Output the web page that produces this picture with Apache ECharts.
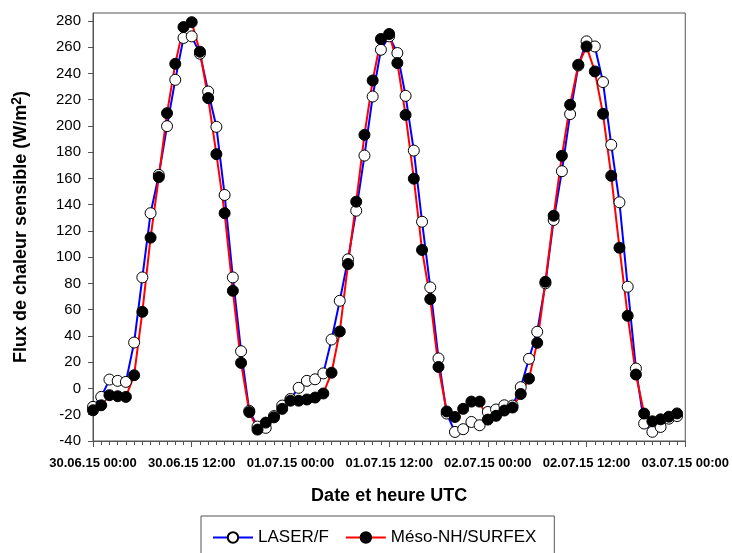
<!DOCTYPE html>
<html>
<head>
<meta charset="utf-8">
<script src="https://cdn.jsdelivr.net/npm/echarts@6/dist/echarts.min.js"></script>
<style>
html,body{margin:0;padding:0;background:#fff;}
#chart{width:732px;height:553px;}
</style>
</head>
<body>
<div id="chart"></div>
<script>
// Hours since 30.06.15 00:00 UTC (one point per hour)
var hours = [0,1,2,3,4,5,6,7,8,9,10,11,12,13,14,15,16,17,18,19,20,21,22,23,
  24,25,26,27,28,29,30,31,32,33,34,35,36,37,38,39,40,41,42,43,44,45,46,47,
  48,49,50,51,52,53,54,55,56,57,58,59,60,61,62,63,64,65,66,67,68,69,70,71];

var laserF = [-14,-6.4,6.8,5.8,5,35,84.6,133.5,162.7,199.8,235.1,267,268.2,255,226.2,199.3,147.4,84.6,28.4,-17,-29,-30,-21,-13,
  -8,0.5,5.8,7,11.5,37.3,66.8,98.4,135.4,177.4,222.4,258,268.2,255.5,222.9,181.2,127,77,22.9,-19.1,-33.1,-31,-25.5,-28,
  -17.9,-16,-12.8,-13,1,22.6,43.2,80.1,128.3,165.5,209,246,264.4,260.5,233.4,185.6,141.8,77.5,15.2,-26.7,-33,-29.3,-23,-21];

var mesoNH = [-16.6,-12.8,-5.1,-5.9,-6.4,10.1,58.4,114.9,161,209.7,247.3,275.3,279,256.5,221.2,178.5,133.5,74.4,19.5,-18,-31.3,-26,-22,-15.5,
  -9.3,-9.3,-8.4,-6.9,-3.8,12,43.4,94.8,142.3,193.2,234.6,266.2,270,247.9,208.4,159.8,105.5,68.1,16.4,-17.5,-21.7,-15.5,-10,-10,
  -23.7,-20.8,-16.8,-14.5,-4.2,7.5,34.8,81.3,131.6,177.2,216.1,246.6,260.5,241.5,209.2,162,107.2,55.4,10.6,-19.1,-25,-23.5,-21.5,-19];

var xTickLabels = ['30.06.15 00:00','30.06.15 12:00','01.07.15 00:00','01.07.15 12:00','02.07.15 00:00','02.07.15 12:00','03.07.15 00:00'];
var yTicks = [-40,-20,0,20,40,60,80,100,120,140,160,180,200,220,240,260,280];
var seriesNames = ['LASER/F','Méso-NH/SURFEX'];

function pairs(vals){ return vals.map(function(v,i){ return [hours[i], v]; }); }

var chart = echarts.init(document.getElementById('chart'), null, {renderer:'canvas'});
var font = '"Liberation Sans", Arial, sans-serif';
var axisColor = '#555';

chart.setOption({
  animation: false,
  backgroundColor: '#fff',
  textStyle: {fontFamily: font},
  grid: {left: 93, right: 44, top: 13, bottom: 112, show: true, borderColor: axisColor, borderWidth: 1, containLabel: false},
  legend: {
    data: seriesNames,
    left: 201, top: 516,
    orient: 'horizontal',
    padding: [13, 18, 20, 11],
    itemGap: 16, itemWidth: 40, itemHeight: 13,
    borderColor: '#555', borderWidth: 1, borderRadius: 0,
    textStyle: {fontFamily: font, fontSize: 17, color: '#000'}
  },
  xAxis: {
    type: 'value', min: 0, max: 72, interval: 12,
    name: 'Date et heure UTC', nameLocation: 'middle', nameGap: 46,
    nameTextStyle: {fontFamily: font, fontSize: 18, fontWeight: 'bold', color: '#000'},
    axisLine: {show: true, onZero: false, lineStyle: {color: axisColor, width: 1}},
    axisTick: {show: true, inside: false, length: 6, lineStyle: {color: axisColor}},
    minorTick: {show: true, splitNumber: 12, length: 4, lineStyle: {color: axisColor}},
    splitLine: {show: false},
    axisLabel: {
      fontFamily: font, fontSize: 13, fontWeight: 'bold', color: '#000', margin: 16,
      formatter: function(v){ var k = Math.round(v/12); return xTickLabels[k] || ''; }
    }
  },
  yAxis: {
    type: 'value', min: -40, max: 286, interval: 20,
    name: '{a|Flux de chaleur sensible (W/m}{s|2}{a|)}', nameLocation: 'middle', nameGap: 60, nameRotate: 90,
    nameTextStyle: {
      fontFamily: font, fontSize: 18, fontWeight: 'bold', color: '#000',
      rich: {
        a: {fontFamily: font, fontSize: 18, fontWeight: 'bold', color: '#000'},
        s: {fontFamily: font, fontSize: 14, fontWeight: 'bold', color: '#000', verticalAlign: 'top', padding: [0,0,9,0]}
      }
    },
    axisLine: {show: true, onZero: false, lineStyle: {color: axisColor, width: 1}},
    axisTick: {show: true, inside: false, length: 5, customValues: yTicks, lineStyle: {color: axisColor}},
    splitLine: {show: false},
    axisLabel: {customValues: yTicks, fontFamily: font, fontSize: 15, color: '#000', margin: 12}
  },
  series: [
    {
      name: seriesNames[0], type: 'line', data: pairs(laserF),
      symbol: 'circle', symbolSize: 11, showAllSymbol: true,
      lineStyle: {color: '#0000ff', width: 2},
      itemStyle: {color: '#ffffff', borderColor: '#000', borderWidth: 1},
      emphasis: {disabled: true}
    },
    {
      name: seriesNames[1], type: 'line', data: pairs(mesoNH),
      symbol: 'circle', symbolSize: 11, showAllSymbol: true,
      lineStyle: {color: '#ff0000', width: 2},
      itemStyle: {color: '#000000', borderColor: '#000', borderWidth: 1},
      emphasis: {disabled: true}
    }
  ]
});
</script>
</body>
</html>
